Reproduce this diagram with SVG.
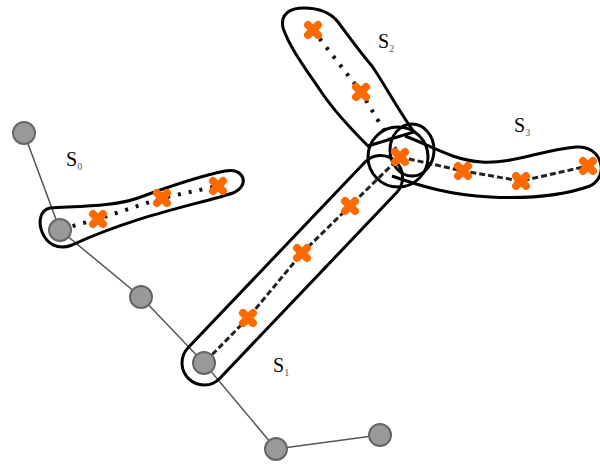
<svg xmlns="http://www.w3.org/2000/svg" width="600" height="464" viewBox="0 0 600 464">
<defs>
<style>
.chain{fill:none;stroke:#555;stroke-width:1.5}
.pt{fill:#999;stroke:#666;stroke-width:2}
.outline{fill:none;stroke:#000;stroke-width:3}
.dots{fill:none;stroke:#111;stroke-width:4;stroke-dasharray:3 8}
.dash{fill:none;stroke:#222;stroke-width:3;stroke-dasharray:6 3}
.x{fill:none;stroke:#ff6a00;stroke-width:8;stroke-linecap:round}
.lbl{font-family:"Liberation Serif",serif;font-size:20px;fill:#000}
.sub{font-size:10px;fill:#555}
</style>
<path id="cross" class="x" d="M-5,-5 L5,5 M5,-5 L-5,5"/>
</defs>
<rect width="600" height="464" fill="#fff"/>
<g id="connectors">
<polyline class="chain" points="24,133 60,230 141,297 204,363 276,449 380,435"/>
<polyline class="dots" points="62,229 98,219 162,198 218,186"/>
<polyline class="dash" points="206,361 248,318 302,253 350,206 400,157"/>
<polyline class="dots" points="313,30 361,92 400,157"/>
<polyline class="dash" points="400,157 463,171 521,181 588,166"/>
</g>
<g id="S0">
<path class="outline" d="M50,208 C85,206 115,206 138,198 C165,188 195,177 225,171 C245,167 250,186 233,193 C200,204 140,214 72,245 C42,257 30,212 50,208 Z"/>
<use href="#cross" x="98" y="219"/><use href="#cross" x="162" y="198"/><use href="#cross" x="218" y="186"/>
<text class="lbl" x="66" y="166">S<tspan class="sub" dy="4">0</tspan></text>
</g>
<g id="S1">
<rect class="outline" transform="translate(204,363) rotate(-46.4)" x="-22" y="-22" width="300" height="44" rx="22"/>
<use href="#cross" x="248" y="318"/><use href="#cross" x="302" y="253"/><use href="#cross" x="350" y="206"/>
<text class="lbl" x="273" y="372">S<tspan class="sub" dy="4">1</tspan></text>
</g>
<g id="S2">
<path class="outline" d="M283,28 C280,14 290,8 304,8 C318,8 330,12 338,22 C350,38 360,52 372,66 C385,85 398,110 414,132 L368,146 C350,128 333,110 320,90 C305,68 290,48 283,28 Z"/>
<use href="#cross" x="313" y="30"/><use href="#cross" x="361" y="92"/>
<text class="lbl" x="378" y="48">S<tspan class="sub" dy="4">2</tspan></text>
</g>
<g id="S3">
<path class="outline" d="M405,136 C432,146 452,160 482,162 C512,164 542,150 576,147 C602,145 610,176 590,186 C562,196 530,199 490,197 C450,195 420,186 392,176"/>
<use href="#cross" x="463" y="171"/><use href="#cross" x="521" y="181"/><use href="#cross" x="588" y="166"/>
<text class="lbl" x="514" y="132">S<tspan class="sub" dy="4">3</tspan></text>
</g>
<g id="junction">
<ellipse class="outline" cx="398" cy="157" rx="30" ry="30"/>
<ellipse class="outline" cx="412" cy="150" rx="22" ry="26"/>
<use href="#cross" x="400" y="157"/>
</g>
<g id="points">
<circle class="pt" cx="24" cy="133" r="11"/>
<circle class="pt" cx="60" cy="230" r="11"/>
<circle class="pt" cx="141" cy="297" r="11"/>
<circle class="pt" cx="204" cy="363" r="11"/>
<circle class="pt" cx="276" cy="449" r="11"/>
<circle class="pt" cx="380" cy="435" r="11"/>
</g>
</svg>
